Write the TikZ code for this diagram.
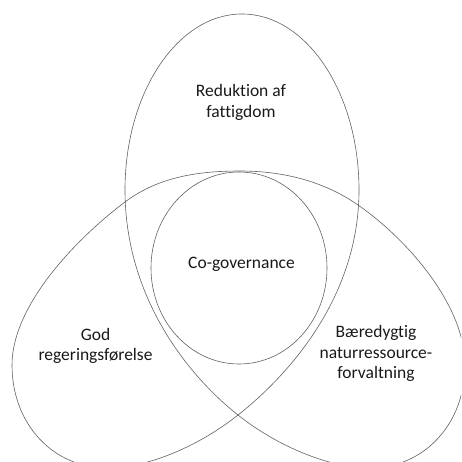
\documentclass[tikz,border=0pt]{standalone}
\usepackage{fontspec}
\setmainfont{Carlito}[Ligatures=NoCommon]
\tikzset{
  knotline/.style={draw=black!62, line width=0.6pt},
  lbl/.style={align=center, inner sep=0pt, font=\fontsize{17.5}{20.5}\selectfont, text=black!90}
}
\begin{document}
\begin{tikzpicture}[x=1pt, y=-1pt]
\useasboundingbox (0,0) rectangle (461,462);
\begin{scope}
\clip (0,0) rectangle (461,462);
\draw[knotline] (242,14) .. controls (306.6,14) and (359,92.8) .. (359,190)
 .. controls (359,300) and (285,378) .. (238,415)
 .. controls (199,446) and (148,468) .. (107,468)
 .. controls (54,468) and (12,425) .. (12,365)
 .. controls (12,305) and (77,238) .. (125,202)
 .. controls (157,178) and (195,171) .. (240,171)
 .. controls (285,171) and (325,182) .. (358,205)
 .. controls (407,239) and (465,305) .. (465,365)
 .. controls (465,425) and (423,468) .. (370,468)
 .. controls (329,468) and (277,446) .. (238,415)
 .. controls (191,378) and (125,300) .. (125,190)
 .. controls (125,92.8) and (177.4,14) .. cycle;
\draw[knotline] (239,268) ellipse [x radius=88, y radius=96];
\end{scope}
\node[lbl] (fattig) at (241,102.5) {Reduktion af\\fattigdom};
\node[lbl] (cogov) at (241.5,264) {Co-governance};
\node[lbl] (god) at (95.5,346) {God\\regeringsførelse};
\node[lbl] (baer) at (376,353.5) {Bæredygtig\\naturressource-\\forvaltning};
\end{tikzpicture}
\end{document}
